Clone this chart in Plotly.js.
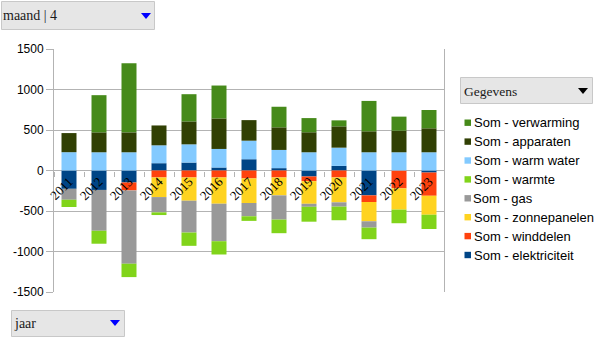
<!DOCTYPE html>
<html>
<head>
<meta charset="utf-8">
<script src="https://cdn.plot.ly/plotly-3.0.1.min.js"></script>
<style>html,body{margin:0;padding:0;background:#fff;}#chart{width:605px;height:341px;}</style>
</head>
<body>
<div id="chart"></div>
<script>
// ---- data ----
const categories = ['2011','2012','2013','2014','2015','2016','2017','2018','2019','2020','2021','2022','2023'];
const seriesNames = ['Som - elektriciteit','Som - winddelen','Som - zonnepanelen','Som - gas','Som - warmte','Som - warm water','Som - apparaten','Som - verwarming'];
const elektriciteit = [-226, -240, -148, 90, 98, 37, 139, 29, -74, 57, -307, 0, -25];
const winddelen     = [0, 0, -98, -86, -86, -86, -98, -86, -58, -86, -82, -221, -287];
const zonnepanelen  = [0, 0, 0, -242, -287, -324, -303, -221, -279, -307, -238, -262, -234];
const gas           = [-135, -504, -905, -189, -393, -463, -164, -299, -37, -53, -78, 0, 0];
const warmte        = [-90, -160, -165, -33, -164, -164, -57, -168, -184, -168, -143, -168, -176];
const warmWater     = [226, 225, 225, 221, 225, 229, 229, 225, 225, 225, 225, 225, 225];
const apparaten     = [236, 246, 246, 245, 283, 377, 254, 279, 247, 263, 259, 267, 296];
const verwarming    = [0, 459, 853, 0, 336, 406, 0, 254, 175, 74, 375, 173, 226];
const seriesColors = ['#004586','#ff420e','#ffd320','#999999','#81d41a','#83caff','#314004','#468a1a'];
const yTickVals = [-1500, -1000, -500, 0, 500, 1000, 1500];
const yTickText = ['-1500', '-1000', '-500', '0', '500', '1000', '1500'];
const dropdownLabels = ['maand | 4', 'Gegevens', 'jaar'];

const seriesValues = [elektriciteit, winddelen, zonnepanelen, gas, warmte, warmWater, apparaten, verwarming];

const W = 605, H = 341;
const px = x => x / W;
const py = y => 1 - y / H;

const traces = seriesValues.map((vals, i) => ({
  type: 'bar',
  name: seriesNames[i],
  x: categories,
  y: vals,
  marker: {color: seriesColors[i], line: {width: 0}},
  hoverinfo: 'x+y+name'
}));

const shapes = [];
const annotations = [];
function box(x0, y0, x1, y1) {
  shapes.push({type: 'rect', xref: 'paper', yref: 'paper', x0: px(x0), x1: px(x1), y0: py(y1), y1: py(y0),
    fillcolor: '#e6e6e6', line: {color: '#c8c8c8', width: 1}, layer: 'above'});
}
function tri(x0, y0, x1, y1, color) {
  const xm = (x0 + x1) / 2;
  shapes.push({type: 'path', xref: 'paper', yref: 'paper',
    path: `M ${px(x0)} ${py(y0)} L ${px(x1)} ${py(y0)} L ${px(xm)} ${py(y1)} Z`,
    fillcolor: color, line: {color: color, width: 0}, layer: 'above'});
}
function label(text, x, y, size, family) {
  annotations.push({text: text, xref: 'paper', yref: 'paper', x: px(x), y: py(y), xanchor: 'left', yanchor: 'middle',
    showarrow: false, font: {family: family, size: size, color: '#1a1a1a'}, borderpad: 0});
}

// dropdown controls
box(1.5, 1.5, 154.5, 29.5); tri(141, 13, 151, 19, '#0000ff'); label(dropdownLabels[0], 2, 16, 14, 'Liberation Serif');
box(460.5, 77.5, 592.5, 103.5); tri(578, 88, 588, 94, '#000000'); label(dropdownLabels[1], 463, 91, 13.5, 'Liberation Serif');
box(11.5, 310.5, 124.5, 336.5); tri(110, 320, 120, 326, '#0000ff'); label(dropdownLabels[2], 13, 323.5, 14, 'Liberation Serif');

// legend (reverse of stacking order)
for (let k = 0; k < seriesNames.length; k++) {
  const i = seriesNames.length - 1 - k;
  const cy = 122.7 + k * 18.9;
  shapes.push({type: 'rect', xref: 'paper', yref: 'paper', x0: px(464.5), x1: px(471), y0: py(cy + 3.2), y1: py(cy - 3.2),
    fillcolor: seriesColors[i], line: {width: 0}});
  annotations.push({text: seriesNames[i], xref: 'paper', yref: 'paper', x: px(472.5), y: py(cy), xanchor: 'left', yanchor: 'middle',
    showarrow: false, font: {family: 'Liberation Sans', size: 13, color: '#000'}, borderpad: 0});
}

const layout = {
  width: W, height: H,
  margin: {l: 0, r: 0, t: 0, b: 0, pad: 0},
  paper_bgcolor: '#ffffff', plot_bgcolor: '#ffffff',
  showlegend: false,
  barmode: 'relative',
  bargap: 0.5,
  xaxis: {
    type: 'category', domain: [px(54), px(444)], anchor: 'free', position: 0.5,
    tickangle: -45, tickfont: {family: 'Liberation Serif', size: 13, color: '#000'},
    ticks: 'outside', tickson: 'boundaries', ticklen: 5, tickcolor: '#b3b3b3', tickwidth: 1,
    showgrid: false, showline: false, zeroline: false, automargin: false, fixedrange: true
  },
  yaxis: {
    domain: [py(292), py(49)], range: [-1500, 1500],
    tickmode: 'array', tickvals: yTickVals, ticktext: yTickText,
    tickfont: {family: 'Liberation Sans', size: 12, color: '#000'},
    ticks: 'outside', ticklen: 7, tickcolor: '#b3b3b3', tickwidth: 1,
    showgrid: true, gridcolor: '#b3b3b3', gridwidth: 1,
    zeroline: true, zerolinecolor: '#b3b3b3', zerolinewidth: 1,
    showline: true, linecolor: '#b3b3b3', linewidth: 1, mirror: true,
    automargin: false, fixedrange: true
  },
  shapes: shapes,
  annotations: annotations
};

Plotly.newPlot('chart', traces, layout, {displayModeBar: false, staticPlot: true});
</script>
</body>
</html>
